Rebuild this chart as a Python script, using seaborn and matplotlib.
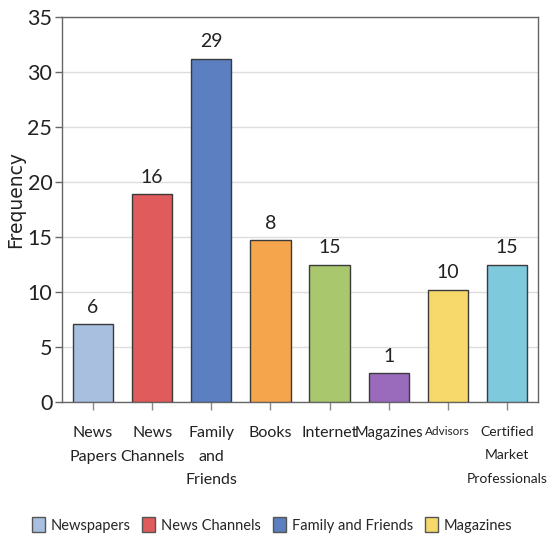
import matplotlib
matplotlib.use("Agg")
import matplotlib.pyplot as plt
import seaborn as sns
import pandas as pd
from matplotlib.patches import Patch

categories = ["News\nPapers", "News\nChannels", "Family\nand\nFriends", "Books",
              "Internet", "Magazines", "Advisors", "Certified\nMarket\nProfessionals"]
heights = [7.1, 18.9, 31.2, 14.7, 12.5, 2.65, 10.2, 12.5]
bar_labels = ["6", "16", "29", "8", "15", "1", "10", "15"]
colors = ["#a8bfdf", "#e05b5c", "#5b7fc0", "#f5a64c", "#a9c76c", "#9a6bbd", "#f7d96b", "#7fc9dd"]
legend_names = ["Newspapers", "News Channels", "Family and Friends", "Magazines"]
legend_colors = ["#a8bfdf", "#e05b5c", "#5b7fc0", "#f7d96b"]

sns.set_style("white")
plt.rcParams['font.family'] = ['Lato', 'DejaVu Sans']

df = pd.DataFrame({"cat": categories, "val": heights})

fig = plt.figure(figsize=(5.55, 5.44), dpi=100)
ax = fig.add_axes([0.1117, 0.261, 0.8577, 0.7078])

sns.barplot(data=df, x="cat", y="val", hue="cat", palette=colors, dodge=False,
            legend=False, width=0.68, saturation=1, edgecolor="#3a3a3a", linewidth=1.0,
            ax=ax, zorder=3)

for cont, lab in zip(ax.containers, bar_labels):
    ax.bar_label(cont, labels=[lab], padding=6, fontsize=14, color="#222222")

ax.set_ylim(0, 35)
ax.set_xlim(-0.525, 7.525)
ax.set_yticks(range(0, 36, 5))
ax.yaxis.grid(True, color="#dddddd", linewidth=1.0, zorder=0)
ax.set_axisbelow(True)
for s in ax.spines.values():
    s.set_color("#666666")
    s.set_linewidth(1.0)
ax.tick_params(axis="y", labelsize=15.5, length=5, width=1, color="#666666", left=True, pad=2, labelcolor="#222222")
ax.tick_params(axis="x", labelsize=11.5, length=6, width=1, color="#888888", bottom=True, pad=11, labelcolor="#222222")
ax.set_xlabel("")
ax.set_ylabel("Frequency", fontsize=13.5, family="DejaVu Sans", color="#222222")
ax.yaxis.set_label_coords(-0.078, 0.525)
for t in ax.get_xticklabels():
    t.set_linespacing(1.9)
    if t.get_text() == "Magazines":
        t.set_fontsize(10.5)
    if t.get_text() == "Advisors":
        t.set_fontsize(8.5)
    if t.get_text().startswith("Certified"):
        t.set_fontsize(10)
        t.set_linespacing(2.15)

handles = [Patch(facecolor=c, edgecolor="#555555", label=n) for c, n in zip(legend_colors, legend_names)]
fig.legend(handles=handles, loc="center", bbox_to_anchor=(0.49, 0.035), ncol=4, frameon=False,
           fontsize=10.5, handlelength=0.9, handleheight=1.2, handletextpad=0.4, columnspacing=0.8)

fig.savefig("out.png", dpi=100)
